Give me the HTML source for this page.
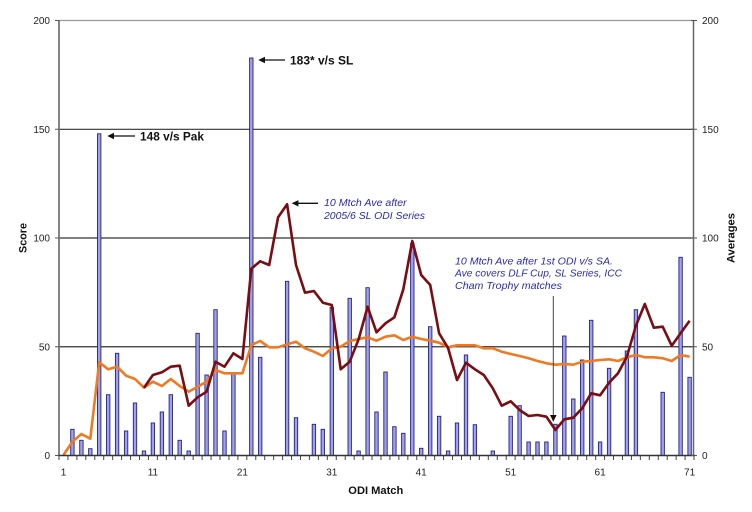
<!DOCTYPE html>
<html><head><meta charset="utf-8"><style>
html,body{margin:0;padding:0;background:#fff;}
svg{display:block;font-family:"Liberation Sans",Arial,sans-serif;}
</style></head><body>
<svg width="752" height="512" viewBox="0 0 752 512" xmlns="http://www.w3.org/2000/svg">
<rect width="752" height="512" fill="#fff"/>
<line x1="59" y1="20.5" x2="694" y2="20.5" stroke="#999" stroke-width="1.2"/>
<line x1="59" y1="129.3" x2="694" y2="129.3" stroke="#333" stroke-width="1.2"/>
<line x1="59" y1="238" x2="694" y2="238" stroke="#333" stroke-width="1.2"/>
<line x1="59" y1="346.75" x2="694" y2="346.75" stroke="#333" stroke-width="1.2"/>
<g fill="#a0a0f0" stroke="#23237a" stroke-width="0.9">
<rect x="70.7" y="429.3" width="3.4" height="26.2"/>
<rect x="79.7" y="440.3" width="3.4" height="15.2"/>
<rect x="88.6" y="448.7" width="3.4" height="6.8"/>
<rect x="97.5" y="133.8" width="3.4" height="321.7"/>
<rect x="106.5" y="394.7" width="3.4" height="60.8"/>
<rect x="115.4" y="353.3" width="3.4" height="102.2"/>
<rect x="124.4" y="431" width="3.4" height="24.5"/>
<rect x="133.3" y="403" width="3.4" height="52.5"/>
<rect x="142.3" y="451" width="3.4" height="4.5"/>
<rect x="151.2" y="423" width="3.4" height="32.5"/>
<rect x="160.2" y="412" width="3.4" height="43.5"/>
<rect x="169.1" y="394.7" width="3.4" height="60.8"/>
<rect x="178" y="440.3" width="3.4" height="15.2"/>
<rect x="187" y="451" width="3.4" height="4.5"/>
<rect x="195.9" y="333.3" width="3.4" height="122.2"/>
<rect x="204.9" y="375" width="3.4" height="80.5"/>
<rect x="213.8" y="309.7" width="3.4" height="145.8"/>
<rect x="222.8" y="431" width="3.4" height="24.5"/>
<rect x="231.7" y="373.3" width="3.4" height="82.2"/>
<rect x="249.6" y="58" width="3.4" height="397.5"/>
<rect x="258.5" y="357.3" width="3.4" height="98.2"/>
<rect x="285.4" y="281.3" width="3.4" height="174.2"/>
<rect x="294.3" y="417.7" width="3.4" height="37.8"/>
<rect x="312.2" y="424.3" width="3.4" height="31.2"/>
<rect x="321.1" y="429.3" width="3.4" height="26.2"/>
<rect x="330.1" y="307.3" width="3.4" height="148.2"/>
<rect x="348" y="298.3" width="3.4" height="157.2"/>
<rect x="356.9" y="451" width="3.4" height="4.5"/>
<rect x="365.9" y="287.7" width="3.4" height="167.8"/>
<rect x="374.8" y="412" width="3.4" height="43.5"/>
<rect x="383.8" y="372" width="3.4" height="83.5"/>
<rect x="392.7" y="426.7" width="3.4" height="28.8"/>
<rect x="401.6" y="433.3" width="3.4" height="22.2"/>
<rect x="410.6" y="243.3" width="3.4" height="212.2"/>
<rect x="419.5" y="448.3" width="3.4" height="7.2"/>
<rect x="428.5" y="326.7" width="3.4" height="128.8"/>
<rect x="437.4" y="416.3" width="3.4" height="39.2"/>
<rect x="446.4" y="451" width="3.4" height="4.5"/>
<rect x="455.3" y="423" width="3.4" height="32.5"/>
<rect x="464.3" y="355" width="3.4" height="100.5"/>
<rect x="473.2" y="424.7" width="3.4" height="30.8"/>
<rect x="491.1" y="451" width="3.4" height="4.5"/>
<rect x="509" y="416.3" width="3.4" height="39.2"/>
<rect x="517.9" y="405.7" width="3.4" height="49.8"/>
<rect x="526.9" y="442" width="3.4" height="13.5"/>
<rect x="535.8" y="442" width="3.4" height="13.5"/>
<rect x="544.7" y="442" width="3.4" height="13.5"/>
<rect x="553.7" y="424.3" width="3.4" height="31.2"/>
<rect x="562.6" y="336" width="3.4" height="119.5"/>
<rect x="571.6" y="399" width="3.4" height="56.5"/>
<rect x="580.5" y="360" width="3.4" height="95.5"/>
<rect x="589.5" y="320.3" width="3.4" height="135.2"/>
<rect x="598.4" y="442" width="3.4" height="13.5"/>
<rect x="607.4" y="368.3" width="3.4" height="87.2"/>
<rect x="625.2" y="351" width="3.4" height="104.5"/>
<rect x="634.2" y="309.7" width="3.4" height="145.8"/>
<rect x="661" y="392.3" width="3.4" height="63.2"/>
<rect x="678.9" y="257.3" width="3.4" height="198.2"/>
<rect x="687.9" y="377.3" width="3.4" height="78.2"/>
</g>
<polyline fill="none" stroke="#f07a22" stroke-width="2.6" stroke-linejoin="round" points="63.5,455 72.4,441.7 81.4,434 90.3,438.7 99.2,362.3 108.2,369.3 117.1,366.7 126.1,375.7 135,379 144,387.7 152.9,381.7 161.9,386 170.8,379 179.7,386 188.7,391.7 197.6,386.7 206.6,381.7 215.5,370 224.5,373.3 233.4,373.3 242.4,373.3 251.3,345 260.2,341 269.2,347.3 278.1,347.3 287.1,344.3 296,341.7 305,348.3 313.9,351.7 322.9,356 331.8,348.3 340.7,346.7 349.7,341 358.6,339 367.6,337.3 376.5,340.7 385.5,336.7 394.4,335.3 403.3,340 412.3,336.7 421.2,339 430.2,340.7 439.1,342.7 448.1,347.3 457,345.3 466,345.3 474.9,345.3 483.8,348.3 492.8,348.3 501.7,351.7 510.7,354 519.6,356 528.6,358.3 537.5,361 546.4,363.3 555.4,364.7 564.3,364 573.3,364.7 582.2,361.7 591.2,361 600.1,360 609.1,359.3 618,361 626.9,357.3 635.9,355 644.8,357.3 653.8,357.3 662.7,358.3 671.7,361 680.6,355 689.6,356.7"/>
<polyline fill="none" stroke="#7a0c12" stroke-width="2.6" stroke-linejoin="round" points="144,387.7 152.9,375 161.9,372.3 170.8,366.7 179.7,365.7 188.7,405.7 197.6,397.3 206.6,391.7 215.5,361.7 224.5,366.7 233.4,353.3 242.4,359 251.3,268.7 260.2,261.3 269.2,265 278.1,217.3 287.1,204.3 296,265 305,292.7 313.9,291 322.9,302.7 331.8,305 340.7,369.3 349.7,361.7 358.6,339.3 367.6,306.7 376.5,332.3 385.5,323.3 394.4,317.3 403.3,289.3 412.3,241 421.2,275 430.2,285 439.1,333.3 448.1,348 457,380 466,362.7 474.9,369.3 483.8,375 492.8,388.3 501.7,405.7 510.7,401.3 519.6,410 528.6,416 537.5,415 546.4,416.7 555.4,430 564.3,419.3 573.3,417.7 582.2,408.3 591.2,393.3 600.1,395.3 609.1,382.7 618,373.3 626.9,356.7 635.9,325.7 644.8,304 653.8,327.7 662.7,326.7 671.7,345.7 680.6,333.3 689.6,320.7"/>
<line x1="59" y1="20" x2="59" y2="456" stroke="#777" stroke-width="1.8"/>
<line x1="693.5" y1="20" x2="693.5" y2="456" stroke="#666" stroke-width="1.5"/>
<line x1="58" y1="455.5" x2="695" y2="455.5" stroke="#333" stroke-width="1.5"/>
<path stroke="#555" stroke-width="1" fill="none" d="M55,20.5h4M55,129.3h4M55,238h4M55,346.75h4M55,455.5h4M691,20.5h6M691,129.3h6M691,238h6M691,346.75h6M691,455.5h6"/>
<path stroke="#444" stroke-width="1" fill="none" d="M59,455.5v4.5M67.94,455.5v4.5M76.89,455.5v4.5M85.83,455.5v4.5M94.78,455.5v4.5M103.72,455.5v4.5M112.66,455.5v4.5M121.61,455.5v4.5M130.55,455.5v4.5M139.5,455.5v4.5M148.44,455.5v4.5M157.38,455.5v4.5M166.33,455.5v4.5M175.27,455.5v4.5M184.22,455.5v4.5M193.16,455.5v4.5M202.1,455.5v4.5M211.05,455.5v4.5M219.99,455.5v4.5M228.94,455.5v4.5M237.88,455.5v4.5M246.82,455.5v4.5M255.77,455.5v4.5M264.71,455.5v4.5M273.66,455.5v4.5M282.6,455.5v4.5M291.54,455.5v4.5M300.49,455.5v4.5M309.43,455.5v4.5M318.38,455.5v4.5M327.32,455.5v4.5M336.26,455.5v4.5M345.21,455.5v4.5M354.15,455.5v4.5M363.1,455.5v4.5M372.04,455.5v4.5M380.98,455.5v4.5M389.93,455.5v4.5M398.87,455.5v4.5M407.82,455.5v4.5M416.76,455.5v4.5M425.7,455.5v4.5M434.65,455.5v4.5M443.59,455.5v4.5M452.54,455.5v4.5M461.48,455.5v4.5M470.42,455.5v4.5M479.37,455.5v4.5M488.31,455.5v4.5M497.26,455.5v4.5M506.2,455.5v4.5M515.14,455.5v4.5M524.09,455.5v4.5M533.03,455.5v4.5M541.98,455.5v4.5M550.92,455.5v4.5M559.86,455.5v4.5M568.81,455.5v4.5M577.75,455.5v4.5M586.7,455.5v4.5M595.64,455.5v4.5M604.58,455.5v4.5M613.53,455.5v4.5M622.47,455.5v4.5M631.42,455.5v4.5M640.36,455.5v4.5M649.3,455.5v4.5M658.25,455.5v4.5M667.19,455.5v4.5M676.14,455.5v4.5M685.08,455.5v4.5M694,455.5v4.5"/>
<g font-size="10" fill="#222" text-anchor="end">
<text x="50" y="24.1">200</text><text x="50" y="133">150</text><text x="50" y="241.6">100</text><text x="50" y="350.4">50</text><text x="50" y="459.1">0</text>
</g>
<g font-size="10" fill="#222">
<text x="702" y="24.1">200</text><text x="702" y="133">150</text><text x="702" y="241.6">100</text><text x="702" y="350.4">50</text><text x="702" y="459.1">0</text>
</g>
<g font-size="10" fill="#222" text-anchor="middle">
<text x="63.5" y="475.3">1</text><text x="152.9" y="475.3">11</text><text x="242.4" y="475.3">21</text><text x="331.8" y="475.3">31</text><text x="421.2" y="475.3">41</text><text x="510.7" y="475.3">51</text><text x="600.1" y="475.3">61</text><text x="689.6" y="475.3">71</text>
</g>
<text x="375.8" y="494" font-size="11" font-weight="bold" fill="#111" text-anchor="middle" textLength="55" lengthAdjust="spacingAndGlyphs">ODI Match</text>
<text transform="translate(26.5,238) rotate(-90)" font-size="11" font-weight="bold" fill="#111" text-anchor="middle" textLength="30" lengthAdjust="spacingAndGlyphs">Score</text>
<text transform="translate(734.5,238) rotate(-90)" font-size="11" font-weight="bold" fill="#111" text-anchor="middle" textLength="50" lengthAdjust="spacingAndGlyphs">Averages</text>
<path stroke="#111" stroke-width="1.3" fill="none" d="M112,136H135M263,60H285M296.5,203.3H318"/>
<line x1="553.3" y1="296" x2="553.3" y2="416" stroke="#444" stroke-width="1"/>
<g fill="#111">
<polygon points="107.3,136 114,132.8 114,139.2"/>
<polygon points="258.3,60 265,56.8 265,63.2"/>
<polygon points="291.7,203.3 298.4,200.1 298.4,206.5"/>
<polygon points="553.3,421.7 550,415 556.6,415"/>
</g>
<text x="140" y="140.3" font-size="12" font-weight="bold" fill="#111" textLength="64" lengthAdjust="spacingAndGlyphs">148 v/s Pak</text>
<text x="290" y="64.3" font-size="12" font-weight="bold" fill="#111" textLength="63.3" lengthAdjust="spacingAndGlyphs">183* v/s SL</text>
<g font-size="10.5" font-style="italic" fill="#2a2ab0">
<text x="324" y="205.8" textLength="82.7" lengthAdjust="spacingAndGlyphs">10 Mtch Ave after</text>
<text x="324" y="219" textLength="101" lengthAdjust="spacingAndGlyphs">2005/6 SL ODI Series</text>
<text x="455" y="264.5" textLength="158" lengthAdjust="spacingAndGlyphs">10 Mtch Ave after 1st ODI v/s SA.</text>
<text x="455" y="276.5" textLength="167" lengthAdjust="spacingAndGlyphs">Ave covers DLF Cup, SL Series, ICC</text>
<text x="455" y="289" textLength="107" lengthAdjust="spacingAndGlyphs">Cham Trophy matches</text>
</g>
</svg>
</body></html>
